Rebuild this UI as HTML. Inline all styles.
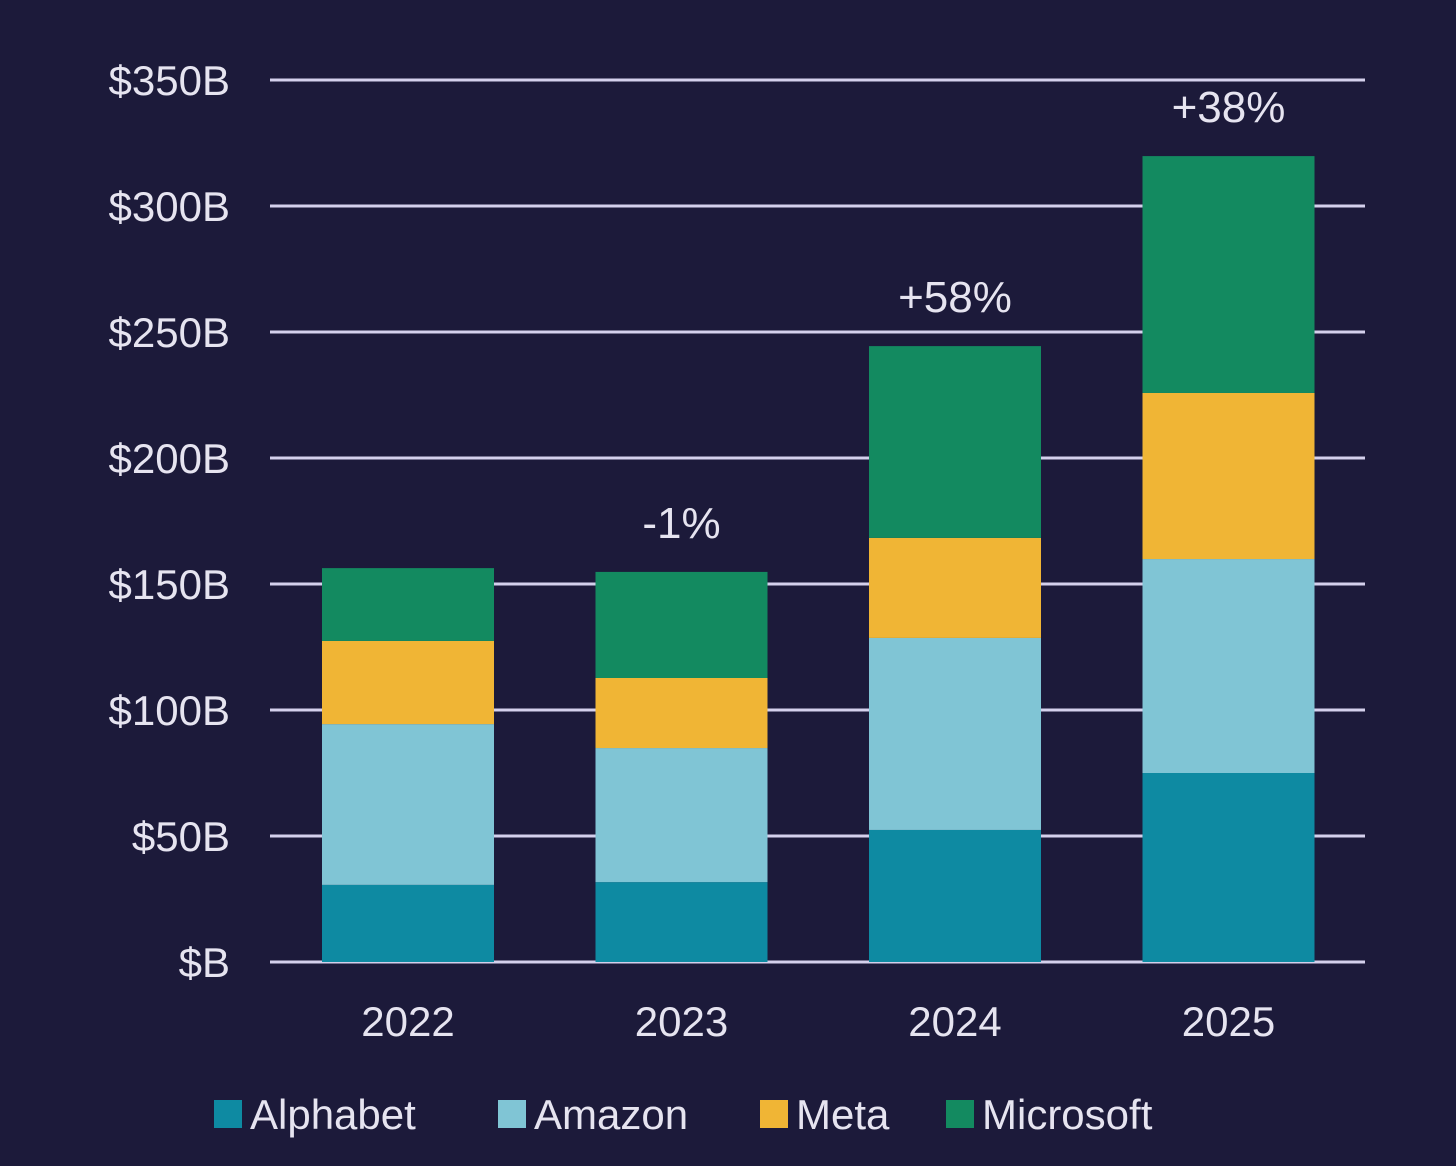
<!DOCTYPE html>
<html><head><meta charset="utf-8"><style>
html,body{margin:0;padding:0;background:#1c1a3a;}
svg{display:block;}
text{font-family:"Liberation Sans",sans-serif;fill:#e6e4f0;}
</style></head><body>
<svg id="chart" width="1456" height="1166">
<rect width="1456" height="1166" fill="#1c1a3a"/>
<g id="grid"></g><g id="bars"></g><g id="labels"></g>
<g id="legend"></g>
</svg>
<script>
const years = ["2022","2023","2024","2025"];
const alphabet = [30.6, 31.7, 52.4, 75];
const amazon = [63.8, 53.2, 76.2, 84.9];
const meta = [33, 27.8, 39.7, 65.9];
const microsoft = [28.9, 42.1, 76.1, 94];
const growth = ["", "-1%", "+58%", "+38%"];
const ticks = [0,50,100,150,200,250,300,350];
const tickLabels = ["$B","$50B","$100B","$150B","$200B","$250B","$300B","$350B"];
const seriesNames = ["Alphabet","Amazon","Meta","Microsoft"];
const colors = ["#0e8aa2","#80c5d5","#f0b535","#138a60"];
const series = [alphabet, amazon, meta, microsoft];

const NS="http://www.w3.org/2000/svg";
const y0=962, y1=80, vmax=350;
const y = v => y0 - (v/vmax)*(y0-y1);
const x0=270, x1=1365, band=(1365-270)/4, bw=172;
const xc = i => 408 + i*273.5;
function mk(tag, attrs, parent){const e=document.createElementNS(NS,tag);for(const k in attrs)e.setAttribute(k,attrs[k]);parent.appendChild(e);return e;}
const grid=document.getElementById('grid'), bars=document.getElementById('bars'), labels=document.getElementById('labels'), legend=document.getElementById('legend');
ticks.forEach((t,i)=>{
  const l=mk('line',{x1:x0,x2:x1,y1:y(t),y2:y(t),stroke:"#d4d0ec","stroke-width":3},grid);
  
  
  const tx=mk('text',{x:230,y:y(t)+15,"text-anchor":"end","font-size":42},labels);
  tx.textContent=tickLabels[i];
  
  
});
years.forEach((yr,i)=>{
  let base=0;
  series.forEach((s,k)=>{
    const r=mk('rect',{x:xc(i)-bw/2,y:y(base+s[i]),width:bw,height:y(base)-y(base+s[i]),fill:colors[k]},bars);
    
    
    base+=s[i];
  });
  const yl=mk('text',{x:xc(i),y:1036,"text-anchor":"middle","font-size":42},labels);
  yl.textContent=yr;
  
  
  if(growth[i]){
    const g=mk('text',{x:xc(i),y:y(base)-34,"text-anchor":"middle","font-size":44},labels);
    g.textContent=growth[i];
    
    
  }
});
const lx=[214,498,760,946];
seriesNames.forEach((n,k)=>{
  const r=mk('rect',{x:lx[k],y:1100,width:28,height:28,fill:colors[k]},legend);
  
  
  const t=mk('text',{x:lx[k]+36,y:1129,"font-size":42},legend);
  t.textContent=n;
  
  
});
</script>
</body></html>
